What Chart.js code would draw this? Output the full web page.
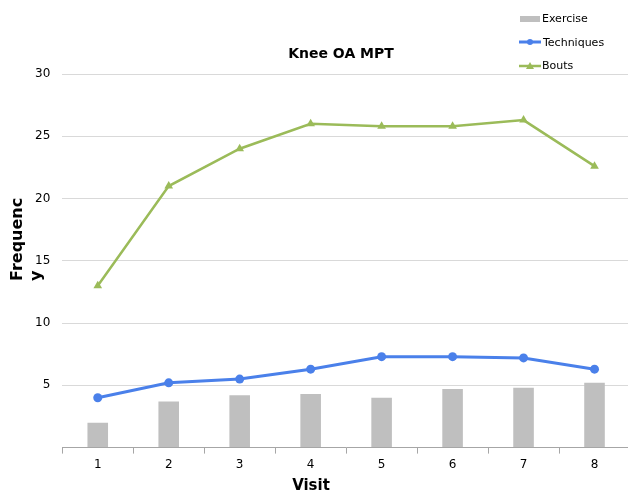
<!DOCTYPE html>
<html>
<head>
<meta charset="utf-8">
<script src="https://cdn.jsdelivr.net/npm/chart.js@4"></script>
<style>
  body { margin: 0; background: #fff; overflow: hidden; }
  #wrap { width: 635px; height: 494px; }
</style>
</head>
<body>
<div id="wrap"><canvas id="mptChart"></canvas></div>
<script>
const visits = ['1', '2', '3', '4', '5', '6', '7', '8'];
const exercise = [2.0, 3.7, 4.2, 4.3, 4.0, 4.7, 4.8, 5.2];
const techniques = [4.0, 5.2, 5.5, 6.3, 7.3, 7.3, 7.2, 6.3];
const bouts = [13.0, 21.0, 24.0, 26.0, 25.8, 25.8, 26.3, 22.6];
const yMax = 30;
const yStep = 5;

const FONT = "'DejaVu Sans', sans-serif";
const GRAY = '#bfbfbf';
const BLUE = '#4a80ea';
const GREEN = '#9bbb59';

// title, legend and axis titles drawn by hand
const decor = {
    id: 'decor',
    afterDraw(chart) {
        const ctx = chart.ctx;
        ctx.save();
        ctx.fillStyle = '#000';
        ctx.textBaseline = 'middle';

        ctx.font = 'bold 14px ' + FONT;
        ctx.textAlign = 'center';
        ctx.fillText('Knee OA MPT', 341, 54);

        ctx.font = 'bold 15px ' + FONT;
        ctx.fillText('Visit', 311, 486);

        ctx.save();
        ctx.translate(18, 281);
        ctx.rotate(-Math.PI / 2);
        ctx.font = 'bold 16px ' + FONT;
        ctx.textAlign = 'left';
        ctx.fillText('Frequenc', 0, 0);
        ctx.fillText('y', 0, 19);
        ctx.restore();

        // legend
        ctx.font = '11px ' + FONT;
        ctx.textAlign = 'left';
        ctx.fillStyle = GRAY;
        ctx.fillRect(520, 16, 20, 6);
        ctx.fillStyle = '#000';
        ctx.fillText('Exercise', 542, 19);

        ctx.strokeStyle = BLUE;
        ctx.lineWidth = 3;
        ctx.beginPath(); ctx.moveTo(519, 42); ctx.lineTo(541, 42); ctx.stroke();
        ctx.fillStyle = BLUE;
        ctx.beginPath(); ctx.arc(530, 42, 3, 0, Math.PI * 2); ctx.fill();
        ctx.fillStyle = '#000';
        ctx.fillText('Techniques', 543, 43);

        ctx.strokeStyle = GREEN;
        ctx.lineWidth = 2.5;
        ctx.beginPath(); ctx.moveTo(519, 66); ctx.lineTo(541, 66); ctx.stroke();
        ctx.fillStyle = GREEN;
        ctx.beginPath(); ctx.moveTo(530, 62); ctx.lineTo(534, 69); ctx.lineTo(526, 69); ctx.closePath(); ctx.fill();
        ctx.fillStyle = '#000';
        ctx.fillText('Bouts', 542, 66);
        ctx.restore();
    }
};

new Chart(document.getElementById('mptChart'), {
    data: {
        labels: visits,
        datasets: [
            {
                type: 'bar',
                label: 'Exercise',
                data: exercise,
                backgroundColor: GRAY,
                barPercentage: 0.29,
                categoryPercentage: 1,
                order: 3
            },
            {
                type: 'line',
                label: 'Techniques',
                data: techniques,
                borderColor: BLUE,
                backgroundColor: BLUE,
                borderWidth: 3,
                pointRadius: 4.5,
                pointBorderWidth: 0,
                pointStyle: 'circle',
                tension: 0,
                order: 2
            },
            {
                type: 'line',
                label: 'Bouts',
                data: bouts,
                borderColor: GREEN,
                backgroundColor: GREEN,
                borderWidth: 2.5,
                pointRadius: 5,
                pointBorderWidth: 0,
                pointStyle: 'triangle',
                tension: 0,
                order: 1
            }
        ]
    },
    options: {
        responsive: true,
        maintainAspectRatio: false,
        animation: false,
        layout: { padding: { top: 74, left: 23, right: 0, bottom: 18 } },
        plugins: {
            legend: { display: false },
            title: { display: false },
            tooltip: { enabled: false }
        },
        scales: {
            x: {
                offset: true,
                grid: { offset: true, drawOnChartArea: false, drawTicks: true, tickLength: 6, color: '#a6a6a6' },
                border: { color: '#a6a6a6' },
                ticks: { color: '#000', font: { family: FONT, size: 12 }, padding: 4 }
            },
            y: {
                min: 0,
                max: yMax,
                grid: { color: '#d9d9d9', drawTicks: false },
                border: { display: false },
                ticks: {
                    stepSize: yStep,
                    color: '#000',
                    padding: 12,
                    font: { family: FONT, size: 12 },
                    callback: v => v === 0 ? '' : v
                }
            }
        }
    },
    plugins: [decor]
});
</script>
</body>
</html>
